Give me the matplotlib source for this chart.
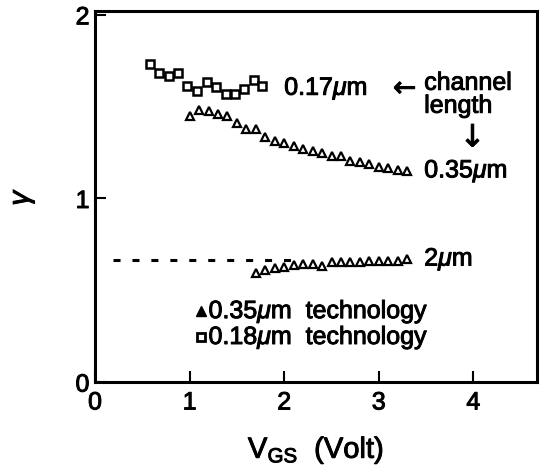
import matplotlib
matplotlib.use("Agg")
import matplotlib.pyplot as plt
import matplotlib.patheffects as pe

plt.rcParams['font.family'] = ['Liberation Sans', 'DejaVu Sans']
plt.rcParams['mathtext.fontset'] = 'custom'
plt.rcParams['mathtext.rm'] = 'Liberation Sans'
plt.rcParams['mathtext.it'] = 'Liberation Sans:italic'

# 0.18um technology, 0.17um channel (squares)
vgs_017 = [0.58, 0.68, 0.78, 0.88, 0.97, 1.08, 1.18, 1.28, 1.38, 1.48, 1.58, 1.68, 1.77]
gamma_017 = [1.735, 1.686, 1.668, 1.681, 1.614, 1.587, 1.637, 1.605, 1.569, 1.569,
             1.596, 1.645, 1.614]

# 0.35um technology, 0.35um channel (triangles)
vgs_035 = [1.0, 1.1, 1.2, 1.3, 1.4, 1.5, 1.6, 1.7, 1.8, 1.9, 2.0, 2.1, 2.2, 2.3,
           2.4, 2.5, 2.6, 2.7, 2.8, 2.9, 3.0, 3.1, 3.2, 3.3]
gamma_035 = [1.451, 1.482, 1.478, 1.460, 1.451, 1.411, 1.379, 1.379, 1.333, 1.311,
             1.301, 1.288, 1.270, 1.261, 1.248, 1.234, 1.234, 1.203, 1.197, 1.189,
             1.174, 1.167, 1.156, 1.148]

# 0.35um technology, 2um channel (triangles)
vgs_2 = [1.7, 1.8, 1.9, 2.0, 2.1, 2.2, 2.3, 2.4, 2.5, 2.6, 2.7, 2.8, 2.9, 3.0,
         3.1, 3.2, 3.3]
gamma_2 = [0.594, 0.609, 0.621, 0.627, 0.636, 0.641, 0.645, 0.630, 0.654, 0.654,
           0.654, 0.654, 0.659, 0.659, 0.659, 0.659, 0.672]

# extrapolated level for 2um
extrap_x = [0.19, 2.1]
extrap_y = [0.667, 0.667]

FS = 18
# the scanned lettering is heavy, thicken the strokes a bit
bold = [pe.withStroke(linewidth=0.7, foreground='black')]

fig = plt.figure(figsize=(5.4, 4.66), dpi=100)
ax = fig.add_axes([0.176, 0.180, 0.818, 0.796])

ax.plot(extrap_x, extrap_y, color='black', lw=2.2, ls=(0, (2.3, 3.9)))
ax.plot(vgs_017, gamma_017, ls='none', marker='s', ms=5.2, mfc='white',
        mec='black', mew=1.8)
ax.plot(vgs_035, gamma_035, ls='none', marker='^', ms=5.5, mfc='white',
        mec='black', mew=1.6)
ax.plot(vgs_2, gamma_2, ls='none', marker='^', ms=5.5, mfc='white',
        mec='black', mew=1.6)

# labels next to the curves
kw = dict(fontsize=FS, va='center', ha='left', path_effects=bold)
ax.text(2.0, 1.60, '0.17$\\mu$m', **kw)
ax.text(3.15, 1.60, '\u2190', fontsize=FS + 2, va='center', ha='left',
        family='DejaVu Sans', path_effects=bold)
ax.text(3.48, 1.63, 'channel', **kw)
ax.text(3.48, 1.505, 'length', **kw)
ax.text(3.99, 1.33, '\u2193', fontsize=FS + 4, va='center', ha='center',
        family='DejaVu Sans', path_effects=bold)
ax.text(3.48, 1.15, '0.35$\\mu$m', **kw)
ax.text(3.48, 0.67, '2$\\mu$m', **kw)

# legend
ax.plot([1.12], [0.386], ls='none', marker='^', ms=6.5, color='black')
ax.plot([1.12], [0.245], ls='none', marker='s', ms=5.5, mfc='white',
        mec='black', mew=2.0)
ax.text(1.2, 0.386, '0.35$\\mu$m  technology', **kw)
ax.text(1.2, 0.245, '0.18$\\mu$m  technology', **kw)

ax.set_xlim(0, 4.67)
ax.set_ylim(0, 2.02)
ax.set_xticks([0, 1, 2, 3, 4])
ax.set_yticks([0, 1, 2])
ax.tick_params(direction='in', length=8, width=1.5, labelsize=FS, pad=4)
ax.tick_params(axis='x', pad=6)
for lab in ax.get_xticklabels() + ax.get_yticklabels():
    lab.set_path_effects(bold)
for sp in ax.spines.values():
    sp.set_linewidth(2.2)

ax.set_xlabel('V$_{\\rm GS}$  (Volt)', fontsize=FS + 3, labelpad=14,
              path_effects=bold)
ax.set_ylabel('$\\gamma$', fontsize=FS + 3, rotation=90, labelpad=28,
              path_effects=bold)

fig.savefig('out.png', dpi=100)
